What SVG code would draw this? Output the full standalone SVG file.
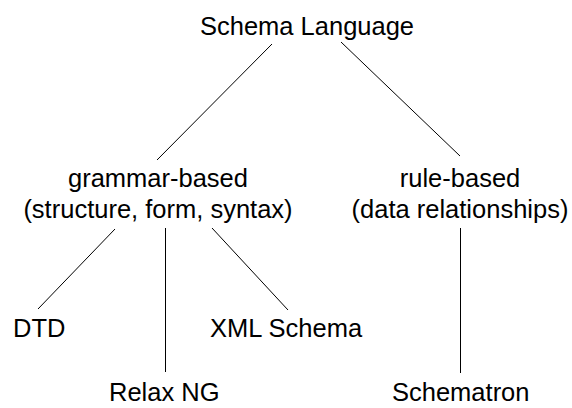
<svg xmlns="http://www.w3.org/2000/svg" width="572" height="408" viewBox="0 0 572 408">
<style>
text{font-family:"Liberation Sans",Arial,sans-serif;font-size:25.5px;fill:#000}
.m{text-anchor:middle}
line{stroke:#000;stroke-width:1}
</style>
<rect width="572" height="408" fill="#fff"/>
<g id="connectors">
<line x1="272" y1="44" x2="157" y2="160"/>
<line x1="341" y1="42" x2="460" y2="156"/>
<line x1="115" y1="229" x2="38" y2="309"/>
<line x1="165.5" y1="228" x2="165.5" y2="372"/>
<line x1="212" y1="228" x2="288" y2="310"/>
<line x1="460.5" y1="228" x2="460.5" y2="373"/>
</g>
<g id="schema-language"><text class="m" x="307" y="35">Schema Language</text></g>
<g id="grammar-based"><text class="m" x="158" y="187">grammar-based</text><text class="m" x="158" y="218">(structure, form, syntax)</text></g>
<g id="rule-based"><text class="m" x="460" y="187">rule-based</text><text class="m" x="460" y="218">(data relationships)</text></g>
<g id="dtd"><text x="13" y="337">DTD</text></g>
<g id="xml-schema"><text x="210" y="337">XML Schema</text></g>
<g id="relax-ng"><text x="109" y="401">Relax NG</text></g>
<g id="schematron"><text x="392" y="401">Schematron</text></g>
</svg>
